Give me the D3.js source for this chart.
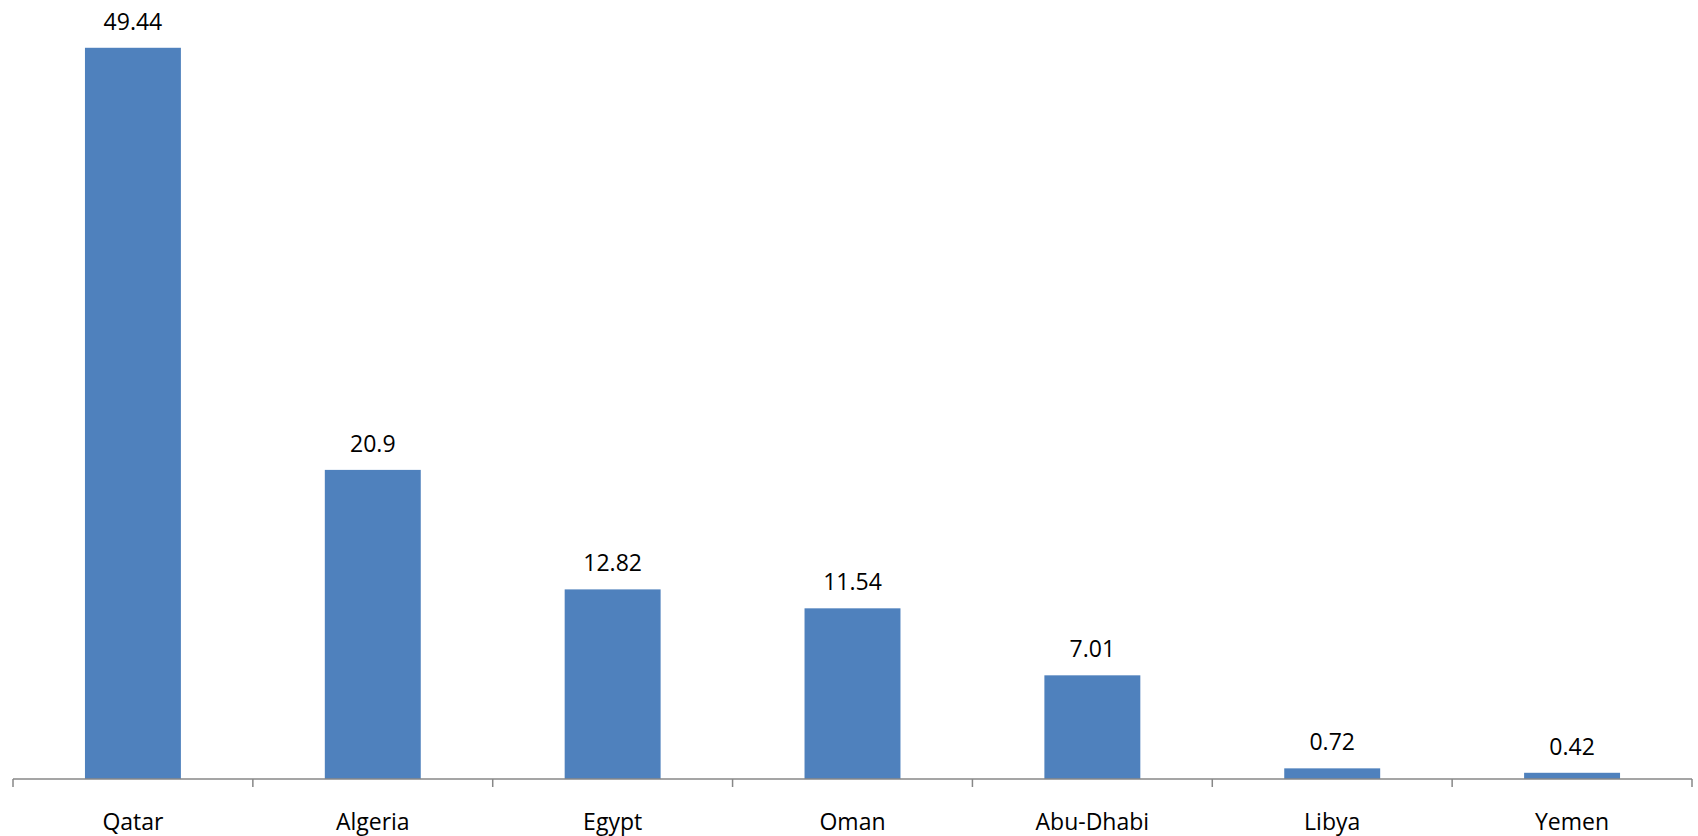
<!DOCTYPE html>
<html>
<head>
<meta charset="utf-8">
<script src="https://cdn.jsdelivr.net/npm/d3@7"></script>
<style>
  html, body { margin: 0; padding: 0; background: #fff; }
  svg { display: block; }
  text { font-family: "Open Sans", "Liberation Sans", sans-serif; fill: #000; }
</style>
</head>
<body>
<svg id="chart" width="1698" height="836"></svg>
<script>
// Country categories and their values
const countries = ["Qatar", "Algeria", "Egypt", "Oman", "Abu-Dhabi", "Libya", "Yemen"];
const values = [49.44, 20.9, 12.82, 11.54, 7.01, 0.72, 0.42];
const valueLabels = ["49.44", "20.9", "12.82", "11.54", "7.01", "0.72", "0.42"];

const svg = d3.select("#chart");
const left = 13, right = 1692, baseY = 779, topY = 39.5;

const x = d3.scaleBand().domain(countries).range([left, right]).paddingInner(0.6).paddingOuter(0.3);
const y = d3.scaleLinear().domain([0, 50]).range([baseY, topY]);

const data = countries.map((c, i) => ({ c, v: values[i], label: valueLabels[i] }));

// Bars
svg.append("g").selectAll("rect").data(data).join("rect")
  .attr("x", d => x(d.c))
  .attr("y", d => y(d.v))
  .attr("width", x.bandwidth())
  .attr("height", d => baseY - y(d.v))
  .attr("fill", "#4F81BD");

// Value labels above bars
svg.append("g").selectAll("text").data(data).join("text")
  .attr("x", d => x(d.c) + x.bandwidth() / 2)
  .attr("y", d => y(d.v) - 18)
  .attr("text-anchor", "middle")
  .style("font-size", "23px")
  .text(d => d.label);

// Category axis: ticks sit at band boundaries
const step = x.step();
const boundaries = d3.range(countries.length + 1).map(i => left + i * (right - left) / countries.length);
const axis = svg.append("g").attr("stroke", "#878787").attr("stroke-width", 1.5);
axis.append("line").attr("x1", left).attr("x2", right).attr("y1", baseY).attr("y2", baseY);
axis.selectAll("line.tick").data(boundaries).join("line").attr("class", "tick")
  .attr("x1", d => d).attr("x2", d => d)
  .attr("y1", baseY).attr("y2", baseY + 8);

// Category labels
svg.append("g").selectAll("text").data(countries).join("text")
  .attr("x", d => x(d) + x.bandwidth() / 2)
  .attr("y", 830)
  .attr("text-anchor", "middle")
  .style("font-size", "23px")
  .text(d => d);
</script>
</body>
</html>
